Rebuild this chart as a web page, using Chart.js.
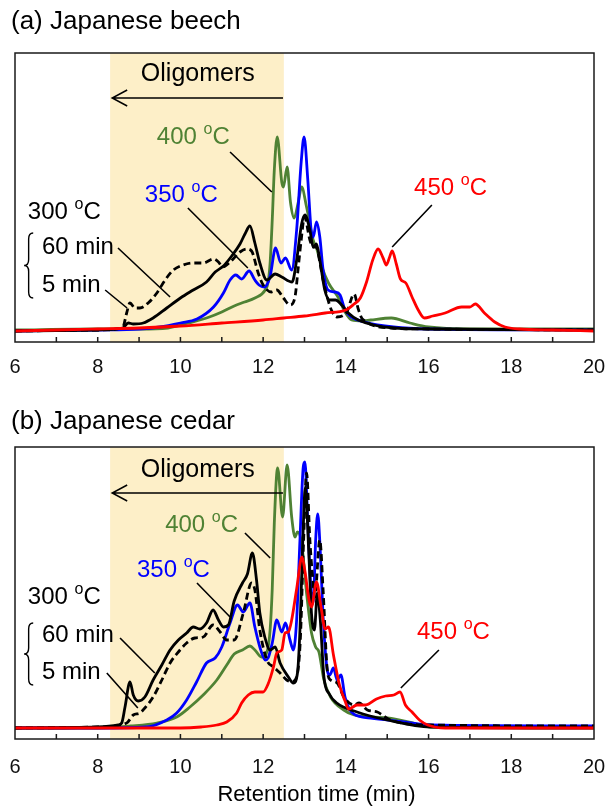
<!DOCTYPE html>
<html>
<head>
<meta charset="utf-8">
<script src="https://cdn.jsdelivr.net/npm/chart.js@4.4.0/dist/chart.umd.min.js"></script>
<style>
  html, body { margin: 0; padding: 0; background: #fff; }
  #wrap { position: relative; width: 608px; height: 808px; }
  canvas { position: absolute; left: 0; }
</style>
</head>
<body>
<div id="wrap">
  <canvas id="beech" width="608" height="385" style="top:0"></canvas>
  <canvas id="cedar" width="608" height="423" style="top:385px"></canvas>
</div>
<script>
// Size-exclusion chromatograms, intensity in arbitrary units
const tickLabels = [6, 8, 10, 12, 14, 16, 18, 20];

// (a) Japanese beech
const beech450T = [6, 7, 8, 9, 10, 11, 12, 12.5, 13, 13.5, 14, 14.2, 14.35, 14.5, 14.65, 14.78, 14.9, 14.98, 15.05, 15.12, 15.22, 15.32, 15.45, 15.6, 15.75, 15.9, 16.1, 16.4, 16.8, 17.0, 17.13, 17.35, 17.6, 17.85, 18.2, 19, 20];
const beech450 = [11, 12, 13, 14, 16, 19, 22, 24, 26, 29, 32, 38, 44, 60, 82, 93, 84, 77, 84, 91, 78, 63, 59, 45, 32, 24, 26, 29, 35, 35, 38, 29, 20, 15, 13, 12, 11];

const beech400T = [6, 8, 9, 9.7, 10.2, 10.7, 11.0, 11.3, 11.55, 11.8, 12.05, 12.12, 12.17, 12.22, 12.27, 12.34, 12.45, 12.49, 12.58, 12.66, 12.75, 12.85, 12.93, 13.05, 13.21, 13.29, 13.42, 13.58, 13.81, 13.98, 14.14, 14.4, 14.6, 15.1, 15.55, 16.0, 17, 20];
const beech400 = [12, 13, 13, 14, 19, 25, 30, 36, 40, 44, 52, 60, 80, 122, 172, 205, 160, 155, 175, 140, 124, 140, 155, 135, 102, 94, 75, 59, 45, 30, 22, 21, 22, 24, 19, 15, 13, 13];

const beech350T = [6, 8, 9, 9.5, 10, 10.4, 10.8, 11.04, 11.2, 11.34, 11.48, 11.66, 11.8, 11.9, 12.03, 12.17, 12.3, 12.43, 12.54, 12.69, 12.81, 12.92, 12.99, 13.08, 13.16, 13.21, 13.29, 13.37, 13.45, 13.57, 13.74, 13.86, 13.98, 14.14, 14.46, 15.15, 16, 20];
const beech350 = [11, 12, 13, 15, 19, 23, 35, 49, 62, 67, 63, 71, 62, 57, 55, 66, 94, 79, 84, 72, 112, 180, 205, 162, 112, 105, 120, 105, 72, 52, 50, 47, 32, 25, 20, 15, 13, 12];

const beech60T = [6, 8, 8.6, 8.74, 8.86, 9.1, 9.34, 9.67, 10.0, 10.31, 10.63, 10.84, 11.04, 11.24, 11.44, 11.56, 11.68, 11.8, 11.92, 12.09, 12.29, 12.45, 12.7, 12.81, 12.93, 13.01, 13.13, 13.21, 13.29, 13.37, 13.49, 13.61, 13.75, 13.9, 14.06, 14.3, 15.16, 16, 20];
const beech60 = [11, 12, 14, 19, 18, 19, 24, 34, 44, 52, 60, 70, 76, 86, 98, 108, 116, 99, 79, 62, 68, 65, 60, 82, 118, 127, 112, 95, 98, 82, 52, 42, 42, 37, 29, 22, 14, 13, 12];

const beech5T = [6, 8, 8.6, 8.7, 8.78, 8.9, 9.02, 9.22, 9.43, 9.63, 9.83, 10.07, 10.31, 10.55, 10.8, 10.92, 11.02, 11.2, 11.44, 11.6, 11.72, 11.88, 12.0, 12.2, 12.33, 12.49, 12.65, 12.77, 12.85, 12.92, 13.0, 13.13, 13.21, 13.29, 13.37, 13.45, 13.57, 13.65, 13.78, 14.02, 14.2, 14.3, 14.4, 15.1, 16, 20];
const beech5 = [11, 12, 14, 29, 39, 34, 34, 39, 49, 62, 72, 77, 79, 79, 83, 80, 75, 80, 90, 93, 91, 69, 57, 50, 52, 44, 37, 45, 75, 102, 125, 102, 95, 95, 80, 62, 42, 32, 25, 30, 48, 33, 23, 14, 13, 12];

// (b) Japanese cedar
const cedar450T = [6, 8, 10, 10.5, 10.88, 11.12, 11.36, 11.48, 11.64, 11.8, 12.0, 12.12, 12.25, 12.33, 12.45, 12.53, 12.61, 12.69, 12.81, 12.94, 13.01, 13.11, 13.17, 13.29, 13.4, 13.5, 13.58, 13.7, 13.84, 13.98, 14.07, 14.27, 14.48, 14.74, 14.96, 15.16, 15.31, 15.44, 15.6, 15.78, 15.98, 16.4, 18, 20];
const cedar450 = [11, 11, 11, 12, 14, 17, 26, 36, 44, 47, 47, 55, 72, 86, 89, 106, 107, 119, 150, 182, 168, 139, 132, 157, 132, 110, 112, 84, 55, 38, 30, 34, 34, 40, 43, 44, 47, 34, 27, 19, 14, 11, 11, 11];

const cedar400T = [6, 8, 8.8, 9.43, 9.91, 10.23, 10.55, 10.88, 11.12, 11.3, 11.5, 11.68, 11.8, 11.96, 12.1, 12.17, 12.22, 12.27, 12.35, 12.47, 12.58, 12.69, 12.77, 12.83, 12.93, 13.05, 13.17, 13.27, 13.35, 13.47, 13.63, 13.95, 14.2, 15.0, 15.64, 16.05, 18, 20];
const cedar400 = [11, 11, 13, 16, 22, 32, 44, 59, 74, 85, 89, 93, 89, 82, 88, 110, 150, 216, 271, 222, 274, 222, 202, 207, 196, 146, 106, 92, 87, 59, 42, 29, 24, 21, 16, 12, 12, 12];

const cedar350T = [6, 8, 9.18, 9.67, 9.91, 10.15, 10.39, 10.63, 10.84, 11.0, 11.2, 11.38, 11.52, 11.68, 11.8, 11.92, 12.05, 12.12, 12.22, 12.33, 12.45, 12.54, 12.65, 12.73, 12.81, 12.89, 12.97, 13.01, 13.08, 13.16, 13.21, 13.27, 13.32, 13.38, 13.45, 13.54, 13.61, 13.7, 13.79, 13.88, 13.98, 14.1, 14.38, 14.6, 15.4, 16.05, 20];
const cedar350 = [11, 11, 12, 19, 26, 39, 57, 76, 81, 92, 116, 134, 127, 136, 112, 92, 79, 81, 96, 119, 107, 116, 99, 89, 119, 199, 272, 277, 216, 146, 136, 199, 225, 189, 122, 72, 64, 71, 59, 64, 42, 29, 22, 21, 17, 14, 13];

const cedar60T = [6, 8, 8.5, 8.58, 8.66, 8.78, 8.86, 8.98, 9.14, 9.34, 9.55, 9.75, 9.95, 10.15, 10.31, 10.47, 10.63, 10.79, 10.92, 11.04, 11.16, 11.3, 11.5, 11.62, 11.74, 11.84, 11.92, 12.04, 12.17, 12.29, 12.41, 12.61, 12.73, 12.83, 12.89, 12.96, 13.02, 13.1, 13.17, 13.24, 13.31, 13.38, 13.47, 13.6, 13.78, 14.27, 15.0, 16.05, 20];
const cedar60 = [11, 12, 14, 16, 32, 57, 44, 38, 42, 59, 74, 89, 99, 106, 112, 110, 116, 129, 119, 112, 114, 138, 156, 165, 186, 159, 126, 102, 89, 92, 76, 62, 56, 66, 109, 200, 252, 190, 125, 109, 146, 120, 62, 45, 36, 27, 19, 12, 11];

const cedar5T = [6, 8, 8.7, 8.86, 9.02, 9.14, 9.34, 9.55, 9.75, 9.95, 10.15, 10.35, 10.55, 10.79, 10.96, 11.12, 11.3, 11.52, 11.72, 11.8, 11.92, 12.09, 12.25, 12.41, 12.57, 12.69, 12.81, 12.9, 12.98, 13.05, 13.13, 13.2, 13.25, 13.37, 13.45, 13.55, 13.63, 13.79, 13.95, 14.2, 14.32, 14.52, 14.76, 14.88, 15.08, 16.05, 20];
const cedar5 = [11, 12, 16, 24, 26, 31, 42, 59, 76, 87, 96, 101, 102, 114, 107, 99, 99, 126, 156, 149, 109, 79, 72, 66, 59, 57, 62, 100, 200, 266, 199, 160, 142, 199, 149, 69, 59, 56, 42, 34, 36, 29, 27, 24, 19, 14, 13];

const RED = '#ff0000';
const BLUE = '#0000ff';
const GREEN = '#4f8234';
const BLACK = '#000000';
const SHADE = '#fdefc8';
const FONT = "'Liberation Sans', Arial, sans-serif";

// label placements (data coordinates: retention time, intensity)
const beechNotes = {
    title: '(a) Japanese beech', titleY: 22,
    oligo: [10.42, 268], arrowY: 244,
    temps: [
        { text: '400', color: GREEN, at: [9.43, 205], lead: [11.2, 190, 12.21, 150] },
        { text: '350', color: BLUE, at: [9.14, 147], lead: [10.18, 134, 11.63, 74] },
        { text: '300', color: BLACK, at: [6.31, 130] },
        { text: '450', color: RED, at: [15.65, 154], lead: [16.08, 137, 15.12, 95] }
    ],
    mins: [
        { text: '60 min', at: [6.65, 95], lead: [8.49, 94, 9.75, 45] },
        { text: '5 min', at: [6.65, 57], lead: [8.18, 52, 8.71, 34] }
    ],
    brace: [109, 44]
};
const cedarNotes = {
    title: '(b) Japanese cedar', titleY: 37,
    oligo: [10.42, 269], arrowY: 246,
    temps: [
        { text: '400', color: GREEN, at: [9.63, 214], lead: [11.56, 206, 12.17, 181] },
        { text: '350', color: BLUE, at: [8.95, 169], lead: [10.4, 156, 11.2, 122] },
        { text: '300', color: BLACK, at: [6.31, 142] },
        { text: '450', color: RED, at: [15.72, 107], lead: [16.25, 89, 15.33, 51] }
    ],
    mins: [
        { text: '60 min', at: [6.65, 104], lead: [8.54, 101, 9.38, 66] },
        { text: '5 min', at: [6.65, 67], lead: [8.22, 66, 8.97, 31] }
    ],
    brace: [116, 54],
    axisTitle: 'Retention time (min)'
};

function series(ts, vals, color, dash) {
    return {
        data: ts.map((t, i) => ({ x: t, y: vals[i] })),
        borderColor: color,
        borderWidth: 2.8,
        borderDash: dash || [],
        pointRadius: 0,
        fill: false,
        cubicInterpolationMode: 'monotone'
    };
}

function tempLabel(ctx, x, y, num, color) {
    ctx.fillStyle = color;
    ctx.textAlign = 'left';
    ctx.textBaseline = 'middle';
    ctx.font = '24px ' + FONT;
    const a = num + ' ';
    ctx.fillText(a, x, y);
    let w = ctx.measureText(a).width;
    ctx.font = '16px ' + FONT;
    ctx.fillText('o', x + w, y - 7);
    w += ctx.measureText('o').width;
    ctx.font = '24px ' + FONT;
    ctx.fillText('C', x + w, y);
}

function decorPlugin(notes) {
    return {
        id: 'decor',
        beforeDatasetsDraw(chart) {
            const { ctx, chartArea: a, scales: { x } } = chart;
            ctx.save();
            ctx.fillStyle = SHADE;
            const x1 = x.getPixelForValue(8.3), x2 = x.getPixelForValue(12.5);
            ctx.fillRect(x1, a.top, x2 - x1, a.bottom - a.top);
            ctx.restore();
        },
        afterDraw(chart) {
            const { ctx, chartArea: a, scales: { x, y } } = chart;
            const px = v => x.getPixelForValue(v);
            const py = v => y.getPixelForValue(v);
            ctx.save();

            // frame and inward ticks
            ctx.strokeStyle = '#1a1a1a';
            ctx.lineWidth = 1.5;
            ctx.strokeRect(a.left, a.top, a.right - a.left, a.bottom - a.top);
            ctx.beginPath();
            for (let t = 7; t < 20; t++) {
                ctx.moveTo(px(t), a.bottom);
                ctx.lineTo(px(t), a.bottom - 5);
            }
            ctx.stroke();

            // panel title
            ctx.fillStyle = BLACK;
            ctx.font = '26px ' + FONT;
            ctx.textAlign = 'left';
            ctx.textBaseline = 'middle';
            ctx.fillText(notes.title, 11, notes.titleY);

            // oligomer arrow
            ctx.font = '25px ' + FONT;
            ctx.textAlign = 'center';
            ctx.fillText('Oligomers', px(notes.oligo[0]), py(notes.oligo[1]));
            const ay = py(notes.arrowY), tip = px(8.35);
            ctx.lineWidth = 1.5;
            ctx.strokeStyle = BLACK;
            ctx.beginPath();
            ctx.moveTo(px(12.48), ay);
            ctx.lineTo(tip, ay);
            ctx.moveTo(tip + 15, ay - 8);
            ctx.lineTo(tip, ay);
            ctx.lineTo(tip + 15, ay + 8);
            ctx.stroke();

            // leader lines
            ctx.lineWidth = 1.6;
            ctx.beginPath();
            notes.temps.concat(notes.mins).forEach(n => {
                if (!n.lead) return;
                ctx.moveTo(px(n.lead[0]), py(n.lead[1]));
                ctx.lineTo(px(n.lead[2]), py(n.lead[3]));
            });
            ctx.stroke();

            notes.temps.forEach(n => tempLabel(ctx, px(n.at[0]), py(n.at[1]), n.text, n.color));
            ctx.fillStyle = BLACK;
            ctx.font = '24px ' + FONT;
            ctx.textAlign = 'left';
            notes.mins.forEach(n => ctx.fillText(n.text, px(n.at[0]), py(n.at[1])));

            // brace grouping the two 300 oC runs
            const yT = py(notes.brace[0]), yB = py(notes.brace[1]), yM = (yT + yB) / 2;
            const xL = px(6.22), xM = px(6.33), xR = px(6.44), r = 6;
            ctx.lineWidth = 1.4;
            ctx.beginPath();
            ctx.moveTo(xR, yT);
            ctx.quadraticCurveTo(xM, yT, xM, yT + r);
            ctx.lineTo(xM, yM - r);
            ctx.quadraticCurveTo(xM, yM, xL, yM);
            ctx.quadraticCurveTo(xM, yM, xM, yM + r);
            ctx.lineTo(xM, yB - r);
            ctx.quadraticCurveTo(xM, yB, xR, yB);
            ctx.stroke();

            if (notes.axisTitle) {
                ctx.font = '22px ' + FONT;
                ctx.textAlign = 'center';
                ctx.fillText(notes.axisTitle, (a.left + a.right) / 2 + 12, chart.height - 13);
            }
            ctx.restore();
        }
    };
}

function makeChart(id, sets, notes, yMax, axisH, tickPad) {
    return new Chart(document.getElementById(id), {
        type: 'line',
        data: { datasets: sets },
        options: {
            responsive: false,
            animation: false,
            devicePixelRatio: 1,
            layout: {
                autoPadding: false,
                padding: { top: id === 'beech' ? 53 : 62, left: 15, right: 14, bottom: 0 }
            },
            plugins: { legend: { display: false }, tooltip: { enabled: false } },
            scales: {
                x: {
                    type: 'linear',
                    min: 6,
                    max: 20,
                    grid: { display: false, drawTicks: false },
                    border: { display: false },
                    afterFit: s => {
                        s.height = axisH;
                        s.paddingLeft = 0;
                        s.paddingRight = 0;
                    },
                    ticks: {
                        stepSize: 1,
                        padding: tickPad,
                        color: '#111',
                        font: { family: FONT, size: 20 },
                        maxRotation: 0,
                        autoSkip: false,
                        callback: v => tickLabels.includes(v) ? String(v) : ''
                    }
                },
                y: { display: false, min: 0, max: yMax }
            }
        },
        plugins: [decorPlugin(notes)]
    });
}

// dataset 0 is drawn on top
makeChart('beech', [
    series(beech450T, beech450, RED),
    series(beech5T, beech5, BLACK, [7, 4]),
    series(beech60T, beech60, BLACK),
    series(beech350T, beech350, BLUE),
    series(beech400T, beech400, GREEN)
], beechNotes, 289, 43, 13);

makeChart('cedar', [
    series(cedar450T, cedar450, RED),
    series(cedar5T, cedar5, BLACK, [7, 4]),
    series(cedar60T, cedar60, BLACK),
    series(cedar350T, cedar350, BLUE),
    series(cedar400T, cedar400, GREEN)
], cedarNotes, 292, 69, 16);
</script>
</body>
</html>
